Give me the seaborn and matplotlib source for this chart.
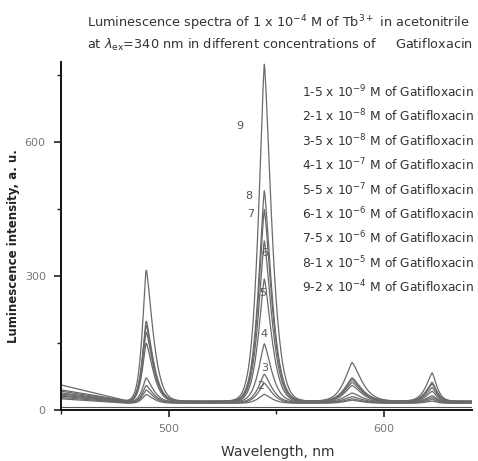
import numpy as np
import pandas as pd
import seaborn as sns
import matplotlib.pyplot as plt
from matplotlib.ticker import MultipleLocator

# curve ids and peak intensities (a. u.)
curves = ["1", "2", "3", "4", "5", "6", "7", "8", "9"]
peak_490 = [35, 45, 55, 72, 150, 175, 190, 200, 315]
peak_545 = [35, 60, 80, 148, 293, 378, 448, 490, 773]
peak_585 = [22, 25, 30, 38, 55, 62, 68, 72, 106]
peak_622 = [20, 24, 28, 32, 42, 50, 58, 62, 83]
floor_level = [15, 16, 17, 18, 18, 19, 19, 20, 20]
left_edge = [25, 28, 31, 33, 36, 38, 42, 45, 56]

# band centres and half-widths (left / right), nm
band_center = [489.6, 544.5, 585.3, 622.5]
band_wl = [2.6, 4.0, 5.1, 4.0]
band_wr = [4.4, 4.8, 6.1, 3.0]

legend_labels = [
    r"1-5 x 10$^{-9}$ M of Gatifloxacin",
    r"2-1 x 10$^{-8}$ M of Gatifloxacin",
    r"3-5 x 10$^{-8}$ M of Gatifloxacin",
    r"4-1 x 10$^{-7}$ M of Gatifloxacin",
    r"5-5 x 10$^{-7}$ M of Gatifloxacin",
    r"6-1 x 10$^{-6}$ M of Gatifloxacin",
    r"7-5 x 10$^{-6}$ M of Gatifloxacin",
    r"8-1 x 10$^{-5}$ M of Gatifloxacin",
    r"9-2 x 10$^{-4}$ M of Gatifloxacin",
]


def band(x, c, wl, wr, p=1.37):
    w = np.where(x < c, wl, wr)
    return np.exp(-(np.abs(x - c) / w) ** p)


wl_grid = np.arange(450, 641.01, 0.25)
rows = []
for i, cid in enumerate(curves):
    base = floor_level[i] + (left_edge[i] - floor_level[i]) * np.clip((481 - wl_grid) / 31, 0, 1)
    y = base.copy()
    for b, peaks in enumerate([peak_490, peak_545, peak_585, peak_622]):
        y += (peaks[i] - floor_level[i]) * band(wl_grid, band_center[b], band_wl[b], band_wr[b])
    rows.append(pd.DataFrame({"wavelength": wl_grid, "intensity": y, "curve": cid}))
df = pd.concat(rows, ignore_index=True)

sns.set_theme(style="ticks")
plt.rcParams["font.family"] = ["DejaVu Sans"]
plt.rcParams["mathtext.fontset"] = "dejavusans"

fig = plt.figure(figsize=(4.78, 4.61), dpi=100)
ax = fig.add_axes([61 / 478, 51 / 461, 411 / 478, 348 / 461])

sns.lineplot(data=df, x="wavelength", y="intensity", hue="curve",
             palette=["#6a6a6a"] * len(curves), linewidth=0.9,
             legend=False, ax=ax)
ax.axhline(6, color="#555555", linewidth=0.8)

ax.set_xlim(450, 641)
ax.set_ylim(0, 778)
ax.xaxis.set_major_locator(MultipleLocator(100))
ax.xaxis.set_minor_locator(MultipleLocator(50))
ax.yaxis.set_major_locator(MultipleLocator(300))
ax.yaxis.set_minor_locator(MultipleLocator(150))
ax.tick_params(which="major", length=5, width=1.2, colors="#222222",
               labelcolor="#777777", labelsize=8)
ax.tick_params(which="minor", length=3, width=1.0, colors="#222222")
ax.tick_params(axis="x", pad=5)
ax.tick_params(axis="y", pad=6)
sns.despine(ax=ax)
for s in ["left", "bottom"]:
    ax.spines[s].set_linewidth(1.4)
    ax.spines[s].set_color("#111111")

ax.set_xlabel("Wavelength, nm", fontsize=10, color="#333333")
ax.xaxis.set_label_coords(0.528, -0.102)
ax.set_ylabel("Luminescence intensity, a. u.", fontsize=8.5, color="#222222",
              fontweight="bold")
ax.yaxis.set_label_coords(-0.1, 0.47)

# curve numbers near the 545 nm band
num_pos = {"9": (532.9, 636), "8": (537.5, 479), "7": (538.0, 439),
           "6": (544.5, 351), "5": (543.6, 262), "4": (544.5, 170),
           "3": (544.5, 94), "2": (542.7, 54)}
for k, (x, y) in num_pos.items():
    ax.text(x, y, k, fontsize=8, color="#555555", ha="center", va="center")

for i, lab in enumerate(legend_labels):
    fig.text(302 / 478, 1 - (92 + 24.4 * i) / 461, lab, fontsize=8.8,
             color="#333333", ha="left", va="center")

fig.text(87 / 478, 1 - 23 / 461,
         r"Luminescence spectra of 1 x 10$^{-4}$ M of Tb$^{3+}$ in acetonitrile",
         fontsize=9.3, color="#333333", ha="left", va="center")
fig.text(87 / 478, 1 - 45 / 461,
         r"at $\lambda_{\rm ex}$=340 nm in different concentrations of     Gatifloxacin",
         fontsize=9.3, color="#333333", ha="left", va="center")

fig.savefig("out.png", dpi=100)
